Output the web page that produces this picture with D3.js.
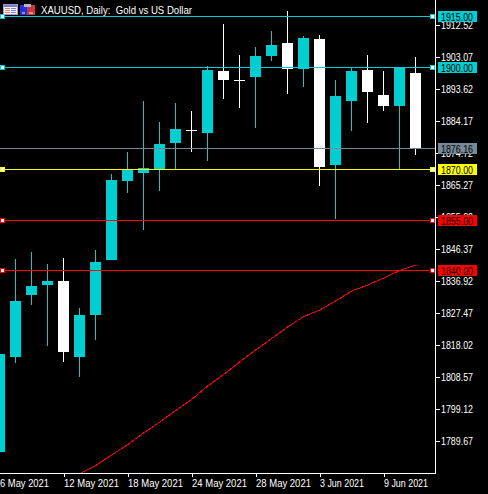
<!DOCTYPE html>
<html><head><meta charset="utf-8">
<script src="https://cdn.jsdelivr.net/npm/d3@7"></script>
<style>
html,body{margin:0;padding:0;background:#000;overflow:hidden}
svg{display:block}
text{font-family:"Liberation Sans",sans-serif;font-size:11px;white-space:pre}
</style></head><body>
<svg id="c" width="488" height="494"></svg>
<script>
const titleText = "XAUUSD, Daily:  Gold vs US Dollar";
const dates = ["6 May 2021","7 May 2021","10 May 2021","11 May 2021","12 May 2021","13 May 2021","14 May 2021","17 May 2021","18 May 2021","19 May 2021","20 May 2021","21 May 2021","24 May 2021","25 May 2021","26 May 2021","27 May 2021","28 May 2021","31 May 2021","1 Jun 2021","2 Jun 2021","3 Jun 2021","4 Jun 2021","7 Jun 2021","8 Jun 2021","9 Jun 2021","10 Jun 2021","11 Jun 2021"];
const opens  = [1786.42,1814.46,1832.77,1835.72,1836.90,1814.46,1826.87,1843.11,1866.43,1868.79,1869.97,1877.65,1881.49,1880.60,1898.91,1896.40,1897.14,1903.34,1907.17,1899.50,1908.36,1871.16,1890.05,1899.20,1891.82,1888.57,1898.32];
const highs  = [1818.00,1843.40,1845.47,1841.92,1843.70,1828.93,1846.06,1868.50,1874.99,1890.05,1883.85,1889.46,1887.10,1900.38,1912.78,1903.63,1905.99,1910.72,1916.62,1909.24,1909.54,1896.25,1899.79,1903.63,1898.91,1900.09,1903.04];
const lows   = [1783.50,1812.69,1829.82,1817.71,1812.99,1808.56,1819.49,1843.11,1862.89,1851.96,1863.48,1869.97,1874.99,1872.34,1890.64,1887.98,1882.08,1901.86,1892.12,1894.18,1864.95,1855.21,1881.19,1883.55,1887.10,1869.97,1874.11];
const closes = [1815.35,1831.00,1835.43,1836.90,1815.94,1826.87,1842.52,1866.73,1869.68,1870.27,1877.35,1881.78,1881.49,1899.20,1896.25,1896.40,1903.34,1906.58,1899.50,1908.65,1870.56,1891.53,1898.91,1892.71,1888.57,1900.09,1875.88];
const maDates = dates.slice(5);
const maValues = [1780.07,1782.43,1785.53,1788.63,1792.03,1795.27,1798.67,1801.92,1805.91,1809.30,1812.99,1816.53,1819.93,1823.32,1826.42,1828.34,1831.00,1833.95,1835.72,1837.79,1840.00,1841.63];
const priceTicks = [1912.52,1903.07,1893.62,1884.17,1874.72,1865.27,1855.82,1846.37,1836.92,1827.47,1818.02,1808.57,1799.12,1789.67];
const dateTicks = ["6 May 2021","12 May 2021","18 May 2021","24 May 2021","28 May 2021","3 Jun 2021","9 Jun 2021"];
const levels = [1915,1900,1876.16,1870,1855,1840];
const levelColors = ["#00ced1","#00ced1","#778899","#ffff00","#ff0000","#ff0000"];
const handled = [true,true,false,true,true,true];

const W=435, H=473, UP="#00ced1", DOWN="#ffffff";
const svg=d3.select("#c");
svg.append("defs").append("clipPath").attr("id","plot").append("rect").attr("width",W).attr("height",H);
const x=d3.scalePoint().domain(dates).range([-0.5,415.5]);
const y=d3.scaleLinear().domain([1915,1840]).range([16.8,270.9]);
const py=v=>Math.round(y(v)-0.3);
const plot=svg.append("g").attr("clip-path","url(#plot)").attr("shape-rendering","crispEdges");

const bars=dates.map((d,i)=>({d,o:opens[i],h:highs[i],l:lows[i],c:closes[i]}));
const col=b=>b.c>b.o?UP:DOWN;
plot.selectAll(".w").data(bars).join("rect").attr("class","w")
 .attr("x",b=>x(b.d)-0.5).attr("width",1)
 .attr("y",b=>py(b.h)).attr("height",b=>py(b.l)-py(b.h)).attr("fill",col);
plot.selectAll(".b").data(bars).join("rect").attr("class","b")
 .attr("x",b=>x(b.d)-5.5).attr("width",11)
 .attr("y",b=>py(Math.max(b.o,b.c)))
 .attr("height",b=>Math.max(1,py(Math.min(b.o,b.c))-py(Math.max(b.o,b.c)))).attr("fill",col);

plot.append("path")
 .attr("d",d3.line().x((v,i)=>x(maDates[i])).y(v=>y(v)-0.3)(maValues))
 .attr("fill","none").attr("stroke","#ff0000").attr("stroke-width",1);

plot.selectAll(".lv").data(levels).join("rect").attr("class","lv")
 .attr("x",0).attr("width",W).attr("y",v=>Math.floor(y(v))).attr("height",1)
 .attr("fill",(v,i)=>levelColors[i]);

// squeezes a text to the pixel width the reference's bitmap font gives it
const fit=(sel,fn)=>sel.each(function(d){
 this.setAttribute("lengthAdjust","spacingAndGlyphs");
 this.setAttribute("textLength",fn(this.textContent));
});
const dateWidth=s=>s.length*5;

// axes
const ya=svg.append("g").attr("transform",`translate(${W},0)`)
 .call(d3.axisRight(y).tickValues(priceTicks).tickFormat(d3.format(".2f")).tickSize(5).tickPadding(1));
const xa=svg.append("g").attr("transform",`translate(0,${H})`)
 .call(d3.axisBottom(x).tickValues(dateTicks).tickSize(4).tickPadding(0));
[ya,xa].forEach(a=>{a.attr("font-family",null).attr("font-size",null);
 a.selectAll("line").attr("stroke","#fff").attr("shape-rendering","crispEdges");
 a.selectAll("text").attr("fill","#fff");
 a.select(".domain").remove();});
fit(ya.selectAll("text"),()=>32);
xa.selectAll("text").attr("text-anchor","start").attr("dy",null).attr("y",14);
fit(xa.selectAll("text"),s=>s.startsWith("6")?49:(s.length>10?55:44));
xa.selectAll(".tick").filter(d=>d===dateTicks[0]).select("line").remove();
svg.append("rect").attr("x",W).attr("y",0).attr("width",1).attr("height",H+1).attr("fill","#fff");
svg.append("rect").attr("x",0).attr("y",H).attr("width",W).attr("height",1).attr("fill","#fff");

// level price tags
const tags=svg.append("g").selectAll("g").data(levels).join("g")
 .attr("transform",v=>`translate(438,${Math.floor(y(v))-5})`);
tags.append("rect").attr("width",39).attr("height",11).attr("fill",(v,i)=>levelColors[i]).attr("shape-rendering","crispEdges");
const tagText=tags.append("text").attr("x",3).attr("y",9.5).attr("fill","#000").text(v=>v.toFixed(2));
fit(tagText,()=>32);

// line handles
[2,432].forEach(hx=>{
 const g=svg.append("g").attr("shape-rendering","crispEdges");
 levels.forEach((v,i)=>{ if(!handled[i]) return;
  const yy=Math.floor(y(v));
  g.append("rect").attr("x",hx-2).attr("y",yy-2).attr("width",5).attr("height",5).attr("fill",levelColors[i]);
  g.append("rect").attr("x",hx-1).attr("y",yy-1).attr("width",3).attr("height",3).attr("fill","#fff");
 });
});

// title and header icons
const t=svg.append("text").attr("x",41).attr("y",14).attr("fill","#fff").text(titleText);
fit(t,()=>151);
const ic=svg.append("g").attr("shape-rendering","crispEdges");
const R=(a,b,w,h,f)=>ic.append("rect").attr("x",a).attr("y",b).attr("width",w).attr("height",h).attr("fill",f);
R(3,4,15,11,"#9a9ad0");R(4,5,13,9,"#f4f4f4");R(4,5,13,2,"#7a7ac8");
[8,10,12].forEach(t=>{R(5,t,5,1,"#e08070");R(11,t,5,1,"#8080d8");});
R(20,5,7,10,"#2a2ae0");R(27,5,8,10,"#c83a3a");R(24,4,7,3,"#b8b8b8");R(22,12,3,2,"#9090f0");R(29,12,4,2,"#e89090");
</script></body></html>
